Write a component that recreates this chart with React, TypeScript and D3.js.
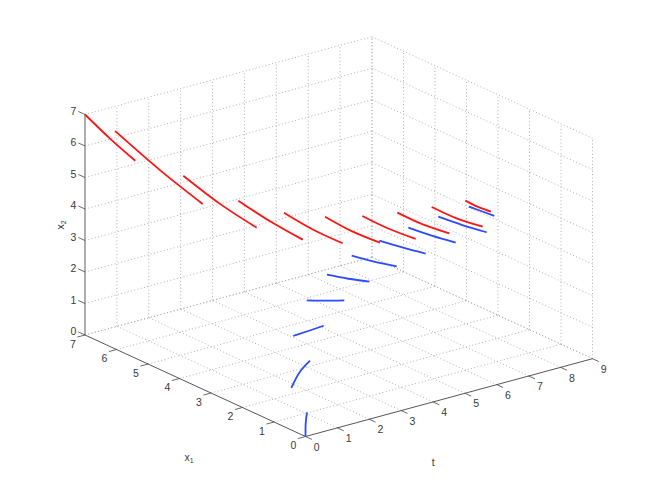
import React from "react";
import * as d3 from "d3";

const tTicks = [0, 1, 2, 3, 4, 5, 6, 7, 8, 9];
const x1Ticks = [0, 1, 2, 3, 4, 5, 6, 7];
const x2Ticks = [0, 1, 2, 3, 4, 5, 6, 7];

const redT = [
  [0, 0.45, 0.9], [0.9, 1.35, 1.8], [1.8, 2.25, 2.7], [2.7, 3.15, 3.6], [3.6, 4.05, 4.5],
  [4.5, 4.95, 5.4], [5.4, 5.85, 6.3], [6.3, 6.75, 7.2], [7.2, 7.65, 8.1], [8.1, 8.325, 8.55],
];
const redX1 = [
  [7, 6.662, 6.314], [6.959, 5.986, 5.086], [5.702, 4.992, 4.283], [4.867, 4.3, 3.733], [4.327, 3.852, 3.375],
  [3.937, 3.526, 3.102], [3.663, 3.294, 2.879], [3.463, 3.113, 2.724], [3.283, 2.945, 2.575], [3.127, 2.952, 2.767],
];
const redX2 = [
  [7, 6.268, 5.6], [6.25, 5.33, 4.546], [5.161, 4.47, 3.917], [4.505, 3.98, 3.542], [4.126, 3.68, 3.346],
  [3.931, 3.53, 3.243], [3.832, 3.48, 3.217], [3.783, 3.45, 3.222], [3.8, 3.471, 3.254], [3.825, 3.646, 3.518],
];
const blueT = redT;
const blueX1 = [
  [0, 0.449, 0.863], [1.362, 1.563, 1.679], [2.21, 2.189, 2.156], [2.695, 2.57, 2.413], [2.962, 2.741, 2.53],
  [3.089, 2.837, 2.571], [3.124, 2.85, 2.562], [3.114, 2.827, 2.521], [3.073, 2.767, 2.448], [3.01, 2.835, 2.662],
];
const blueX2 = [
  [0, 0.089, 0.124], [0.666, 0.936, 1.14], [1.68, 1.724, 1.784], [2.343, 2.264, 2.226], [2.786, 2.635, 2.515],
  [3.083, 2.885, 2.738], [3.297, 3.085, 2.896], [3.467, 3.22, 3.017], [3.588, 3.34, 3.134], [3.688, 3.561, 3.43],
];

const W = 654;
const H = 491;
const ox = 305.5;
const oy = 436.5;
const tDx = d3.scaleLinear().domain([0, 9]).range([0, 287]);
const tDy = d3.scaleLinear().domain([0, 9]).range([0, -77.8]);
const x1Dx = d3.scaleLinear().domain([0, 7]).range([0, -220.5]);
const x1Dy = d3.scaleLinear().domain([0, 7]).range([0, -101.5]);
const x2Dy = d3.scaleLinear().domain([0, 7]).range([0, -220.5]);

const proj = (t: number, x1: number, x2: number): [number, number] => [
  ox + tDx(t) + x1Dx(x1),
  oy + tDy(t) + x1Dy(x1) + x2Dy(x2),
];
const curve = d3.line<[number, number]>().curve(d3.curveNatural);
const straight = d3.line<[number, number]>();
const font = "'Liberation Sans', Arial, sans-serif";
const grid = { stroke: "#a8a8a8", strokeWidth: 0.9, strokeDasharray: "1 2.4", fill: "none" };
const axisCol = "#444";
const txt = "#3a3a3a";

function Seg({ ts, a, b, color }: { ts: number[][]; a: number[][]; b: number[][]; color: string }) {
  return (
    <g fill="none" stroke={color} strokeWidth={1.8}>
      {ts.map((row, i) => (
        <path key={i} d={curve(row.map((t, j) => proj(t, a[i][j], b[i][j])))!} />
      ))}
    </g>
  );
}

export default function App() {
  const gl = (p: [number, number], q: [number, number], k: string) => (
    <path key={k} d={straight([p, q])!} {...grid} />
  );
  return (
    <svg width={W} height={H} style={{ position: "absolute", left: 0, top: 0, background: "#fff" }} fontFamily={font}>
      <g>
        {tTicks.slice(1).map((t) => gl(proj(t, 0, 0), proj(t, 7, 0), `ft${t}`))}
        {x1Ticks.slice(1).map((x) => gl(proj(0, x, 0), proj(9, x, 0), `fx${x}`))}
        {tTicks.slice(1).map((t) => gl(proj(t, 7, 0), proj(t, 7, 7), `wt${t}`))}
        {x2Ticks.map((z) => gl(proj(0, 7, z), proj(9, 7, z), `wz${z}`))}
        {x1Ticks.map((x) => gl(proj(9, x, 0), proj(9, x, 7), `rx${x}`))}
        {x2Ticks.map((z) => gl(proj(9, 0, z), proj(9, 7, z), `rz${z}`))}
      </g>
      <path d={straight([proj(0, 7, 0), proj(0, 7, 7)])!} stroke="#999" strokeWidth={1.6} fill="none" />
      <path d={straight([proj(0, 0, 0), proj(0, 7, 0)])!} stroke={axisCol} strokeWidth={0.9} fill="none" />
      <path d={straight([proj(0, 0, 0), proj(9, 0, 0)])!} stroke={axisCol} strokeWidth={0.9} fill="none" />
      <g stroke={axisCol} strokeWidth={0.8} fill="none">
        {x2Ticks.map((z) => <path key={z} d={straight([proj(0, 7, z), proj(0, 7.21, z)])!} />)}
        {x1Ticks.map((x) => <path key={x} d={straight([proj(0, x, 0), proj(-0.24, x, 0)])!} />)}
        {tTicks.map((t) => <path key={t} d={straight([proj(t, 0, 0), proj(t, -0.2, 0)])!} />)}
      </g>
      <g fontSize={10.5} fill={txt} textAnchor="middle" dominantBaseline="central">
        {x2Ticks.map((z) => {
          const [x, y] = proj(0, 7, z);
          return <text key={z} x={x - 11.7} y={y - 3.7}>{z}</text>;
        })}
        {x1Ticks.map((v) => {
          const [x, y] = proj(0, v, 0);
          return <text key={v} x={x - 12} y={y + 8.6}>{v}</text>;
        })}
        {tTicks.map((t) => {
          const [x, y] = proj(t, 0, 0);
          return <text key={t} x={x + 11.2} y={y + 10.2}>{t}</text>;
        })}
        <text x={433.3} y={461.7}>t</text>
        <text x={189} y={456.5}>x<tspan fontSize={7} dy={3}>1</tspan></text>
        <text transform="translate(60,225) rotate(-90)">x<tspan fontSize={7} dy={3}>2</tspan></text>
      </g>
      <Seg ts={redT} a={redX1} b={redX2} color="#ff1414" />
      <Seg ts={blueT} a={blueX1} b={blueX2} color="#2a4bff" />
    </svg>
  );
}
